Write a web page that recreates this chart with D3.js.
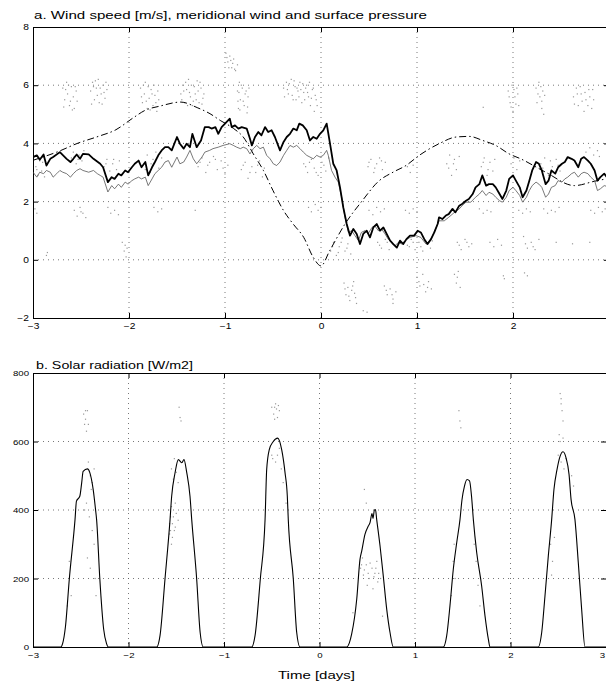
<!DOCTYPE html>
<html>
<head>
<meta charset="utf-8">
<script src="https://cdn.jsdelivr.net/npm/d3@7"></script>
<style>
  body { margin: 0; background: #fff; }
  text { font-family: "Liberation Sans", Arial, Helvetica, sans-serif; fill: #000; }
</style>
</head>
<body>
<div id="chart"></div>
<script>
// ---- data: [time in days, value] ----
const timeTicks = [-3, -2, -1, 0, 1, 2, 3];
const windTicks = [-2, 0, 2, 4, 6, 8];
const solarTicks = [0, 200, 400, 600, 800];

// thick line, wind speed [m/s]
const windSpeed = [[-3.00,3.53],[-2.96,3.59],[-2.93,3.44],[-2.89,3.62],[-2.86,3.24],[-2.82,3.47],[-2.79,3.53],[-2.72,3.70],[-2.65,3.47],[-2.61,3.36],[-2.58,3.47],[-2.545,3.62],[-2.51,3.47],[-2.48,3.64],[-2.42,3.62],[-2.37,3.47],[-2.30,3.30],[-2.27,3.18],[-2.22,2.67],[-2.18,2.84],[-2.15,2.78],[-2.11,2.96],[-2.08,2.90],[-2.04,3.07],[-2.01,3.01],[-1.97,3.18],[-1.94,3.30],[-1.90,3.41],[-1.87,3.18],[-1.83,3.36],[-1.80,2.90],[-1.76,3.18],[-1.73,3.36],[-1.695,3.59],[-1.66,3.76],[-1.625,3.87],[-1.59,3.87],[-1.555,3.76],[-1.50,4.22],[-1.47,3.99],[-1.43,3.82],[-1.40,3.99],[-1.365,3.87],[-1.34,4.33],[-1.295,3.87],[-1.25,4.10],[-1.21,4.56],[-1.17,4.56],[-1.14,4.51],[-1.10,4.56],[-1.07,4.33],[-1.035,4.56],[-1.00,4.68],[-0.95,4.85],
  [-0.93,4.56],[-0.896,4.62],[-0.86,4.51],[-0.826,4.56],[-0.774,4.51],[-0.74,4.16],[-0.72,3.93],[-0.6875,4.22],[-0.653,4.39],[-0.62,4.28],[-0.583,4.56],[-0.55,4.39],[-0.514,4.45],[-0.48,4.22],[-0.427,3.76],[-0.39,4.05],[-0.357,4.22],[-0.323,4.33],[-0.288,4.51],[-0.253,4.45],[-0.226,4.68],[-0.19,4.62],[-0.149,4.45],[-0.115,4.10],[-0.08,4.22],[-0.045,4.16],[-0.01,4.33],[0.024,4.45],[0.059,4.68],[0.094,3.99],[0.128,3.30],[0.163,3.07],[0.198,2.49],[0.232,1.80],[0.268,1.23],[0.302,0.83],[0.337,1.06],[0.372,0.89],[0.406,0.54],[0.44,0.89],[0.476,1.00],[0.51,0.77],[0.545,1.11],[0.58,1.23],[0.615,1.00],[0.65,1.11],[0.684,0.89],[0.72,0.66],[0.753,0.54],[0.79,0.42],[0.823,0.66],[0.857,0.54],[0.89,0.71],[0.927,0.83],
  [0.97,0.83],[1.007,1.00],[1.04,0.94],[1.076,0.71],[1.11,0.54],[1.146,0.71],[1.18,0.94],[1.215,1.23],[1.23,1.46],[1.264,1.40],[1.30,1.52],[1.33,1.57],[1.37,1.75],[1.40,1.63],[1.44,1.86],[1.47,1.92],[1.51,2.03],[1.54,2.09],[1.58,2.26],[1.61,2.49],[1.65,2.60],[1.68,2.90],[1.72,2.55],[1.75,2.60],[1.79,2.60],[1.82,2.49],[1.86,2.26],[1.89,2.09],[1.93,2.38],[1.96,2.78],[2.00,2.90],[2.03,2.72],[2.07,2.49],[2.10,2.15],[2.14,2.38],[2.17,2.72],[2.20,3.07],[2.24,3.36],[2.27,3.30],[2.30,3.07],[2.34,2.60],[2.37,2.72],[2.40,3.07],[2.44,2.96],[2.47,3.18],[2.51,3.30],[2.54,3.36],[2.57,3.53],[2.61,3.47],[2.64,3.41],[2.68,3.18],[2.71,3.47],[2.74,3.53],[2.78,3.41],[2.81,3.30],[2.85,3.07],[2.88,2.72],[2.91,2.84],[2.95,2.96],[3.00,2.75]];

// thin grey line, second wind speed record
const windSpeed2 = [[-3.00,3.01],[-2.96,2.84],[-2.93,3.01],[-2.89,2.96],[-2.86,3.07],[-2.82,3.01],[-2.79,2.84],[-2.753,2.96],[-2.72,3.07],[-2.69,3.01],[-2.65,2.96],[-2.61,2.84],[-2.58,2.96],[-2.545,3.07],[-2.51,3.13],[-2.48,3.07],[-2.42,3.01],[-2.37,3.07],[-2.33,2.96],[-2.30,2.90],[-2.27,2.84],[-2.22,2.33],[-2.18,2.55],[-2.15,2.44],[-2.11,2.60],[-2.08,2.49],[-2.04,2.67],[-2.01,2.60],[-1.97,2.72],[-1.94,2.78],[-1.90,2.84],[-1.87,2.78],[-1.83,2.84],[-1.80,2.55],[-1.76,2.78],[-1.73,2.96],[-1.695,3.07],[-1.66,3.18],[-1.625,3.36],[-1.59,3.41],[-1.555,3.18],[-1.50,3.53],[-1.47,3.30],[-1.43,3.36],[-1.40,3.53],[-1.365,3.76],[-1.33,3.47],[-1.295,3.30],[-1.24,3.53],[-1.21,3.70],[-1.16,3.76],[-1.125,3.82],[-1.07,3.87],[-1.02,3.93],[-0.95,3.99],
  [-0.913,3.93],[-0.878,3.87],[-0.84,3.82],[-0.81,3.87],[-0.774,3.82],[-0.74,3.64],[-0.705,3.82],[-0.67,3.93],[-0.635,3.82],[-0.60,3.87],[-0.566,3.59],[-0.53,3.47],[-0.497,3.30],[-0.462,3.24],[-0.427,3.36],[-0.39,3.59],[-0.357,3.76],[-0.323,3.93],[-0.288,3.87],[-0.253,3.93],[-0.219,3.82],[-0.184,3.70],[-0.149,3.59],[-0.115,3.53],[-0.08,3.47],[-0.045,3.59],[-0.01,3.53],[0.024,3.59],[0.059,3.76],[0.076,3.59],[0.11,3.07],[0.146,2.84],[0.18,2.67],[0.215,2.15],[0.25,1.46],[0.285,0.94],[0.32,1.00],[0.354,0.83],[0.39,0.66],[0.42,0.94],[0.458,1.00],[0.49,0.89],[0.53,1.11],[0.56,1.17],[0.597,1.00],[0.63,1.06],[0.667,0.89],[0.70,0.71],[0.736,0.60],[0.77,0.48],[0.806,0.60],[0.84,0.54],[0.875,0.66],[0.927,0.77],
  [0.99,0.83],[1.04,0.77],[1.094,0.54],[1.146,0.71],[1.20,1.11],[1.23,1.34],[1.284,1.34],[1.33,1.46],[1.39,1.63],[1.44,1.75],[1.47,1.86],[1.51,1.98],[1.56,1.98],[1.61,2.15],[1.65,2.26],[1.68,2.38],[1.72,2.21],[1.75,2.32],[1.79,2.26],[1.82,2.15],[1.86,2.03],[1.89,1.98],[1.93,2.15],[1.96,2.38],[2.00,2.49],[2.03,2.38],[2.07,2.21],[2.10,1.98],[2.14,2.15],[2.17,2.38],[2.20,2.55],[2.24,2.67],[2.27,2.60],[2.30,2.49],[2.34,2.15],[2.37,2.26],[2.40,2.49],[2.44,2.55],[2.47,2.72],[2.51,2.67],[2.54,2.78],[2.57,2.84],[2.61,2.96],[2.64,3.01],[2.68,2.84],[2.71,2.96],[2.74,3.01],[2.78,2.96],[2.81,2.84],[2.85,2.72],[2.88,2.38],[2.91,2.44],[2.95,2.55],[3.00,2.50]];

// dash-dot line, surface pressure (scaled)
const pressure = [[-3.0,3.42],[-2.753,3.70],[-2.53,4.01],[-2.32,4.24],[-2.136,4.47],[-1.96,4.87],[-1.83,5.14],[-1.68,5.28],[-1.46,5.42],[-1.29,5.23],[-1.156,5.02],[-1.05,4.79],[-0.91,4.51],[-0.81,4.22],[-0.705,3.64],[-0.6,3.07],[-0.5,2.38],[-0.39,1.69],[-0.29,1.23],[-0.18,0.77],[-0.08,0.08],[0.0,-0.21],[0.09,0.31],[0.25,1.23],[0.43,2.03],[0.6,2.70],[0.75,3.01],[0.885,3.24],[1.024,3.59],[1.23,3.99],[1.41,4.22],[1.545,4.24],[1.685,4.10],[1.82,3.93],[1.96,3.64],[2.08,3.47],[2.34,3.01],[2.64,2.55],[2.85,2.70],[3.0,2.80]];

// grey dots, meridional wind [m/s]
const meridional = [
  [-2.69,5.9],[-2.67,5.5],[-2.65,6.1],[-2.64,5.7],[-2.62,5.3],[-2.6,5.95],[-2.58,5.6],[-2.57,5.2],[-2.55,5.8],[-2.54,5.45],
  [-2.68,5.25],[-2.66,5.85],[-2.63,6.0],[-2.61,5.45],[-2.59,5.15],[-2.56,5.95],
  [-2.40,5.8],[-2.38,6.1],[-2.36,5.5],[-2.34,5.9],[-2.32,6.2],[-2.31,5.4],[-2.29,5.7],[-2.27,6.0],[-2.25,5.55],[-2.23,5.85],
  [-2.39,5.35],[-2.37,5.95],[-2.35,6.15],[-2.33,5.65],[-2.3,5.9],[-2.28,5.35],[-2.26,5.75],[-2.24,6.1],
  [-1.88,5.9],[-1.86,5.4],[-1.84,5.7],[-1.83,6.1],[-1.81,5.2],[-1.79,5.55],[-1.77,5.85],[-1.75,5.3],[-1.73,5.65],[-1.71,5.1],[-1.69,5.5],
  [-1.87,5.6],[-1.85,6.0],[-1.82,5.45],[-1.8,5.95],[-1.78,5.15],[-1.76,5.7],[-1.74,6.0],[-1.72,5.4],[-1.7,5.8],
  [-1.46,5.7],[-1.44,6.0],[-1.42,5.4],[-1.40,5.85],[-1.38,6.2],[-1.36,5.6],[-1.34,5.3],[-1.32,5.95],[-1.30,5.5],[-1.28,5.8],[-1.26,6.1],[-1.24,5.35],[-1.22,5.7],
  [-1.45,5.5],[-1.43,5.8],[-1.41,6.1],[-1.39,5.3],[-1.37,5.75],[-1.35,6.0],[-1.33,5.45],[-1.31,5.7],[-1.29,6.15],[-1.27,5.4],[-1.25,5.9],[-1.23,5.55],
  [-0.99,7.1],[-0.97,6.8],[-0.95,7.0],[-0.93,6.6],[-0.91,6.9],[-0.89,6.5],[-0.87,6.7],
  [-0.98,6.95],[-0.96,6.6],[-0.94,6.85],[-0.92,6.75],[-0.9,6.55],
  [-0.87,5.8],[-0.86,5.2],[-0.85,6.1],[-0.84,5.5],[-0.82,5.9],[-0.80,5.3],[-0.79,5.7],[-0.77,5.05],[-0.76,5.6],[-0.75,5.9],
  [-0.865,5.45],[-0.855,5.75],[-0.845,5.15],[-0.83,6.0],[-0.81,5.45],[-0.78,5.8],[-0.765,5.25],
  [-0.39,5.9],[-0.36,6.1],[-0.34,5.7],[-0.31,6.2],[-0.29,5.5],[-0.27,5.95],[-0.24,5.8],[-0.22,6.1],[-0.2,5.4],[-0.18,5.75],[-0.15,6.0],[-0.13,5.6],[-0.11,5.3],[-0.09,5.85],[-0.07,5.1],[-0.05,5.5],
  [-0.38,5.6],[-0.35,5.85],[-0.33,6.05],[-0.3,5.65],[-0.28,6.15],[-0.26,5.5],[-0.25,5.9],[-0.23,5.6],[-0.21,5.85],[-0.19,6.05],[-0.17,5.5],[-0.16,5.9],[-0.14,5.75],[-0.12,6.1],[-0.1,5.55],[-0.08,5.9],[-0.06,5.65],[-0.04,5.3],
  [1.95,5.8],[1.97,5.4],[1.99,6.0],[2.0,5.1],[2.02,5.6],[2.04,5.9],[2.06,5.3],[1.69,5.24],
  [1.96,5.6],[1.98,5.25],[2.01,5.85],[2.03,5.35],[2.05,5.7],
  [2.24,5.9],[2.25,5.4],[2.27,6.1],[2.28,5.6],[2.30,5.2],[2.31,5.8],[2.32,5.0],
  [2.26,5.7],[2.29,5.95],[2.3,5.45],[2.33,5.65],
  [2.63,5.6],[2.66,5.9],[2.68,5.3],[2.71,5.7],[2.74,5.1],[2.76,5.5],[2.79,5.85],[2.82,5.2],[2.84,5.5],
  [2.64,5.35],[2.67,5.7],[2.7,5.95],[2.72,5.45],[2.75,5.75],[2.78,5.3],[2.8,5.6],[2.83,5.85],
  [-2.97,3.2],[-2.95,2.9],[-2.93,3.4],[-2.91,3.05],[-2.88,2.85],[-2.86,3.3],[-2.96,3.1],[-2.9,3.35],
  [-2.6,3.5],[-2.58,3.7],[-2.55,3.3],[-2.52,3.6],[-2.49,3.4],[-2.47,3.75],[-2.57,3.55],[-2.53,3.45],
  [-2.26,3.2],[-2.23,3.45],[-2.2,3.05],[-2.17,3.3],[-2.13,3.1],[-2.1,3.4],[-2.24,3.3],[-2.16,3.45],
  [-1.84,3.3],[-1.81,3.6],[-1.78,3.0],[-1.75,3.45],[-1.72,3.7],[-1.69,3.15],[-1.66,3.5],[-1.8,2.95],[-1.83,3.1],[-1.77,3.3],[-1.7,3.55],
  [-1.28,3.2],[-1.24,3.5],[-1.2,3.0],[-1.16,3.35],[-1.12,3.55],[-1.08,3.1],[-1.04,3.4],[-1.0,2.95],[-0.97,3.25],[-1.26,3.35],[-1.18,3.25],[-1.1,3.45],[-1.02,3.15],
  [-0.83,3.1],[-0.79,3.35],[-0.76,2.8],[-0.72,3.2],[-0.68,3.0],[-0.64,3.4],[-0.61,2.85],[-0.59,3.15],[-0.81,3.25],[-0.74,3.0],[-0.66,3.25],
  [-0.18,3.3],[-0.14,3.0],[-0.1,3.45],[-0.07,3.15],[-0.03,2.9],[0.01,3.35],[0.05,3.05],[0.08,3.5],[-0.16,3.2],[-0.12,3.35],[-0.05,3.0],[0.03,3.25],
  [0.49,3.2],[0.52,3.45],[0.55,3.0],[0.58,3.3],[0.61,3.5],[0.64,3.1],[0.67,3.35],[0.5,3.35],[0.56,3.15],[0.63,3.4],
  [0.9,3.2],[0.93,3.0],[0.96,3.25],
  [1.31,3.3],[1.34,3.6],[1.36,2.9],[1.39,3.45],[1.41,3.1],[1.44,3.55],[1.33,3.15],[1.38,3.3],
  [1.67,3.2],[1.7,3.5],[1.73,2.9],[1.76,3.35],[1.79,3.05],[1.81,3.45],[1.69,3.35],[1.74,3.1],
  [1.98,3.3],[2.01,3.5],[2.04,3.1],[2.07,3.4],
  [2.29,3.3],[2.33,3.5],[2.37,2.9],[2.41,3.2],[2.45,3.45],[2.49,3.05],[2.31,3.15],[2.39,3.4],[2.47,3.25],
  [2.76,3.7],[2.8,3.85],[2.84,3.6],[2.88,3.75],[2.9,3.55],
  [-2.98,1.75],[-2.96,1.6],
  [-2.57,1.7],[-2.54,1.5],[-2.51,1.8],[-2.48,1.6],[-2.45,1.45],[-2.5,1.65],
  [-2.22,1.8],[-2.19,1.6],[-2.15,1.7],[-2.11,1.55],
  [-1.74,1.8],[-1.7,1.65],[-1.66,1.75],[-1.31,1.7],
  [-0.13,1.8],[-0.1,1.65],[-0.06,1.9],[-0.03,1.7],[0.0,1.8],
  [0.5,1.7],[0.54,1.55],[0.58,1.8],[0.62,1.65],[0.66,1.75],
  [0.88,1.7],[0.92,1.6],[0.96,1.75],[1.0,1.65],
  [1.65,1.75],[1.69,1.6],[1.73,1.7],[1.77,1.65],
  [2.06,1.7],[2.1,1.6],[2.14,1.75],[2.18,1.65],
  [2.32,1.75],[2.36,1.6],[2.4,1.7],[2.44,1.65],[2.48,1.8],
  [2.81,1.7],[2.85,1.6],[2.89,1.8],[2.93,1.65],[2.96,1.75],
  [-2.85,0.25],[-2.86,0.15],
  [-2.07,0.6],[-2.05,0.3],[-2.04,0.5],[-2.03,0.1],[-2.02,0.4],
  [0.1,0.3],[0.13,0.6],[0.16,0.15],[0.19,0.45],[0.22,0.75],[0.25,0.3],[0.28,0.55],[0.31,0.2],[0.12,0.45],[0.18,0.25],[0.21,0.6],[0.27,0.4],
  [0.59,0.6],[0.63,0.4],[0.67,0.7],[0.71,0.35],[0.75,0.55],[0.78,0.45],[0.61,0.5],[0.69,0.6],
  [0.9,0.5],[0.94,0.7],[0.98,0.35],[1.02,0.6],[1.06,0.3],[1.1,0.55],[1.14,0.4],[1.16,0.65],[0.92,0.45],[0.96,0.6],[1.04,0.45],[1.08,0.65],
  [1.42,0.6],[1.46,0.35],[1.5,0.7],[1.54,0.45],[1.57,0.55],[1.44,0.5],[1.52,0.6],
  [1.76,0.6],[1.8,0.45],[1.84,0.7],[1.88,0.5],
  [2.11,0.8],[2.15,0.4],[2.19,0.6],[2.23,0.35],[2.27,0.7],[2.13,0.55],[2.21,0.45],
  [2.45,0.6],[2.62,0.55],[2.8,0.6],
  [0.24,-0.8],[0.26,-1.2],[0.28,-0.95],[0.3,-1.4],[0.32,-1.05],[0.34,-0.75],[0.36,-1.3],[0.37,-1.5],[0.25,-1.0],[0.29,-1.25],[0.33,-0.9],[0.35,-1.15],
  [0.66,-0.9],[0.69,-1.2],[0.72,-1.0],[0.75,-1.35],[0.78,-1.1],[0.68,-1.05],[0.74,-1.2],
  [1.0,-0.6],[1.03,-0.9],[1.06,-0.5],[1.09,-1.1],[1.12,-0.75],[1.15,-1.0],[1.02,-0.75],[1.07,-0.85],[1.11,-0.95],
  [1.39,-0.5],[1.41,-0.8],[1.43,-0.4],[1.45,-0.95],[1.42,-0.6],
  [1.9,-0.55],[1.91,-0.65],[2.12,-0.45],[2.15,-0.55],
  [0.44,-1.75],[0.48,-1.8],[0.75,-1.5]];

// solar radiation [W/m2], line
const solar = [[-3,0],[-2.71,0],[-2.69,10],[-2.66,60],[-2.62,198],[-2.56,372],[-2.545,426],[-2.51,440],[-2.49,480],[-2.475,513],[-2.43,520],[-2.405,509],[-2.37,460],[-2.345,401],[-2.334,372],[-2.30,198],[-2.26,52],[-2.23,10],[-2.21,0],
  [-1.705,0],[-1.67,33],[-1.618,198],[-1.565,372],[-1.548,440],[-1.513,508],[-1.478,547],[-1.443,538],[-1.419,547],[-1.39,509],[-1.356,440],[-1.338,372],[-1.286,198],[-1.25,43],[-1.217,0],
  [-0.71,0],[-0.675,33],[-0.62,198],[-0.57,372],[-0.553,518],[-0.526,576],[-0.484,600],[-0.438,610],[-0.396,576],[-0.361,509],[-0.337,440],[-0.327,372],[-0.274,198],[-0.239,43],[-0.204,0],
  [0.285,0],[0.337,38],[0.39,140],[0.424,256],[0.442,280],[0.476,329],[0.511,353],[0.529,363],[0.55,390],[0.56,375],[0.575,400],[0.586,401],[0.599,372],[0.634,295],[0.668,207],[0.704,110],[0.738,43],[0.773,0],
  [1.296,0],[1.332,33],[1.366,120],[1.401,227],[1.437,305],[1.471,372],[1.492,430],[1.518,470],[1.545,489],[1.571,485],[1.592,440],[1.611,372],[1.646,276],[1.698,178],[1.733,91],[1.768,23],[1.785,0],
  [2.291,0],[2.327,43],[2.361,149],[2.396,266],[2.431,372],[2.455,460],[2.487,518],[2.518,556],[2.55,570],[2.581,553],[2.613,504],[2.634,431],[2.675,372],[2.71,246],[2.745,110],[2.78,0],[3,0]];

// solar radiation, grey dots
const solarDots = [
  [-2.47,680],[-2.46,650],[-2.45,665],[-2.44,630],[-2.43,690],[-2.42,650],[-2.45,690],
  [-2.42,540],[-2.4,500],[-2.38,480],[-2.36,520],[-2.39,460],
  [-2.44,420],[-2.41,380],[-2.38,340],[-2.36,300],[-2.43,260],[-2.4,230],[-2.46,400],[-2.35,200],[-2.34,150],[-2.62,250],[-2.6,150],[-2.64,120],
  [-1.47,700],[-1.46,670],[-1.45,660],
  [-1.55,520],[-1.52,550],[-1.5,510],[-1.48,480],[-1.53,490],
  [-1.58,400],[-1.56,380],[-1.54,360],[-1.52,340],[-1.57,330],[-1.5,390],[-1.55,300],[-1.51,420],[-1.48,370],
  [-1.57,360],[-1.55,410],[-1.53,380],[-1.56,340],[-1.54,320],[-1.51,350],
  [-0.5,700],[-0.48,680],[-0.46,710],[-0.44,670],[-0.42,690],[-0.47,665],[-0.45,695],[-0.47,700],[-0.43,705],
  [-0.5,560],[-0.46,540],[-0.42,580],[-0.4,520],[-0.38,480],[-0.35,420],[-0.49,550],[-0.44,560],
  [0.47,460],[0.49,420],
  [0.43,230],[0.46,210],[0.49,240],[0.52,200],[0.55,230],[0.58,215],[0.61,190],[0.5,180],[0.45,260],[0.6,250],[0.64,200],[0.56,170],[0.35,100],[0.66,90],
  [0.44,240],[0.47,225],[0.51,215],[0.53,245],[0.57,205],[0.59,230],[0.62,215],
  [1.46,690],[1.47,660],[1.48,640],
  [1.4,250],[1.42,200],[1.38,150],[1.41,300],[1.64,250],[1.66,180],[1.62,300],[1.68,120],
  [2.52,740],[2.53,710],[2.54,690],[2.55,660],[2.51,620],[2.53,725],[2.52,600],[2.55,610],
  [2.5,560],[2.53,540],[2.56,520],[2.58,550],
  [2.42,300],[2.44,250],[2.46,320],[2.43,210],[2.66,470],[2.64,500]];

var width = 606, height = 683;

var svg = d3.select("#chart").append("svg")
  .attr("width", width)
  .attr("height", height);

// one framed MATLAB-style panel: inward ticks, dotted grid, box
function drawPanel(svg, props) {
  const { id, left, right, top, bottom, yDomain, yTicks, fontSize } = props;

  const x = d3.scaleLinear().domain([-3, 3]).range([left, right]);
  const y = d3.scaleLinear().domain(yDomain).range([bottom, top]);

  svg.append("clipPath").attr("id", id)
    .append("rect")
    .attr("x", left).attr("y", top)
    .attr("width", right - left).attr("height", bottom - top);

  // dotted grid
  const grid = svg.append("g")
    .attr("stroke", "#555")
    .attr("stroke-width", 0.8)
    .attr("stroke-dasharray", "1,4");
  grid.selectAll(".gx")
    .data(timeTicks.slice(1, -1))
    .enter().append("line")
    .attr("x1", d => x(d)).attr("x2", d => x(d))
    .attr("y1", top).attr("y2", bottom);
  grid.selectAll(".gy")
    .data(yTicks.slice(1, -1))
    .enter().append("line")
    .attr("x1", left).attr("x2", right)
    .attr("y1", d => y(d)).attr("y2", d => y(d));

  const fmt = d3.format("d");

  const axes = [
    [d3.axisBottom(x).tickValues(timeTicks).tickFormat(fmt).tickPadding(5), "translate(0," + bottom + ")", "bottom"],
    [d3.axisTop(x).tickValues(timeTicks).tickFormat(""), "translate(0," + top + ")", "top"],
    [d3.axisLeft(y).tickValues(yTicks).tickFormat(fmt).tickPadding(4), "translate(" + left + ",0)", "left"],
    [d3.axisRight(y).tickValues(yTicks).tickFormat(""), "translate(" + right + ",0)", "right"]
  ];
  axes.forEach(function(a) {
    const g = svg.append("g")
      .attr("transform", a[1])
      .call(a[0].tickSize(-5).tickSizeOuter(0));
    g.select(".domain").attr("stroke", "#000").attr("stroke-width", 1);
    g.selectAll(".tick line").attr("stroke", "#000");
    g.selectAll("text")
      .attr("fill", "#000")
      .style("font-size", fontSize + "px")
      .style("font-family", "'Liberation Sans', Arial, sans-serif");
    // the original lettering is a little wider than Arial
    g.selectAll("text").each(function() {
      const w = this.getComputedTextLength();
      d3.select(this).attr("textLength", w * 1.2).attr("lengthAdjust", "spacingAndGlyphs");
    });

    // last time label sits at the page edge: pull it inside, or drop it
    if (a[2] === "bottom") {
      const last = g.selectAll(".tick text").filter(d => d === 3);
      if (x(3) > width) last.remove();
      else last.attr("text-anchor", "end").attr("dx", "-1.5");
    }
  });

  const plot = svg.append("g").attr("clip-path", "url(#" + id + ")");
  return { x, y, plot };
}

// ---- panel a ----
var pa = drawPanel(svg, {
  id: "clipA", left: 33, right: 609, top: 27, bottom: 318,
  yDomain: [-2, 8], yTicks: windTicks, fontSize: 8.5
});

pa.plot.selectAll(".dot")
  .data(meridional)
  .enter().append("rect")
  .attr("x", d => pa.x(d[0]) - 0.6)
  .attr("y", d => pa.y(d[1]) - 0.6)
  .attr("width", 1.2).attr("height", 1.2)
  .attr("fill", "#999");

var lineA = d3.line().x(d => pa.x(d[0])).y(d => pa.y(d[1]));

pa.plot.append("path")
  .attr("d", lineA.curve(d3.curveMonotoneX)(pressure))
  .attr("fill", "none")
  .attr("stroke", "#000")
  .attr("stroke-width", 1)
  .attr("stroke-dasharray", "7,3,1.5,3");

lineA.curve(d3.curveLinear);

pa.plot.append("path")
  .attr("d", lineA(windSpeed2))
  .attr("fill", "none")
  .attr("stroke", "#555")
  .attr("stroke-width", 0.8);

pa.plot.append("path")
  .attr("d", lineA(windSpeed))
  .attr("fill", "none")
  .attr("stroke", "#000")
  .attr("stroke-width", 1.8)
  .attr("stroke-linejoin", "round");

// ---- panel b ----
var pb = drawPanel(svg, {
  id: "clipB", left: 33, right: 606, top: 373, bottom: 647,
  yDomain: [0, 800], yTicks: solarTicks, fontSize: 8
});

pb.plot.selectAll(".dot")
  .data(solarDots)
  .enter().append("rect")
  .attr("x", d => pb.x(d[0]) - 0.6)
  .attr("y", d => pb.y(d[1]) - 0.6)
  .attr("width", 1.2).attr("height", 1.2)
  .attr("fill", "#999");

pb.plot.append("path")
  .attr("d", d3.line().x(d => pb.x(d[0])).y(d => pb.y(d[1])).curve(d3.curveMonotoneX)(solar))
  .attr("fill", "none")
  .attr("stroke", "#000")
  .attr("stroke-width", 1.1);

// ---- titles ----
svg.append("text")
  .attr("x", 34).attr("y", 18.5)
  .attr("textLength", 393).attr("lengthAdjust", "spacingAndGlyphs")
  .style("font-size", "11.5px")
  .text("a. Wind speed [m/s], meridional wind and surface pressure");

svg.append("text")
  .attr("x", 36).attr("y", 369)
  .attr("textLength", 157).attr("lengthAdjust", "spacingAndGlyphs")
  .style("font-size", "11.5px")
  .text("b. Solar radiation [W/m2]");

svg.append("text")
  .attr("x", 278).attr("y", 679)
  .attr("textLength", 77).attr("lengthAdjust", "spacingAndGlyphs")
  .style("font-size", "11.5px")
  .text("Time [days]");
</script>
</body>
</html>
